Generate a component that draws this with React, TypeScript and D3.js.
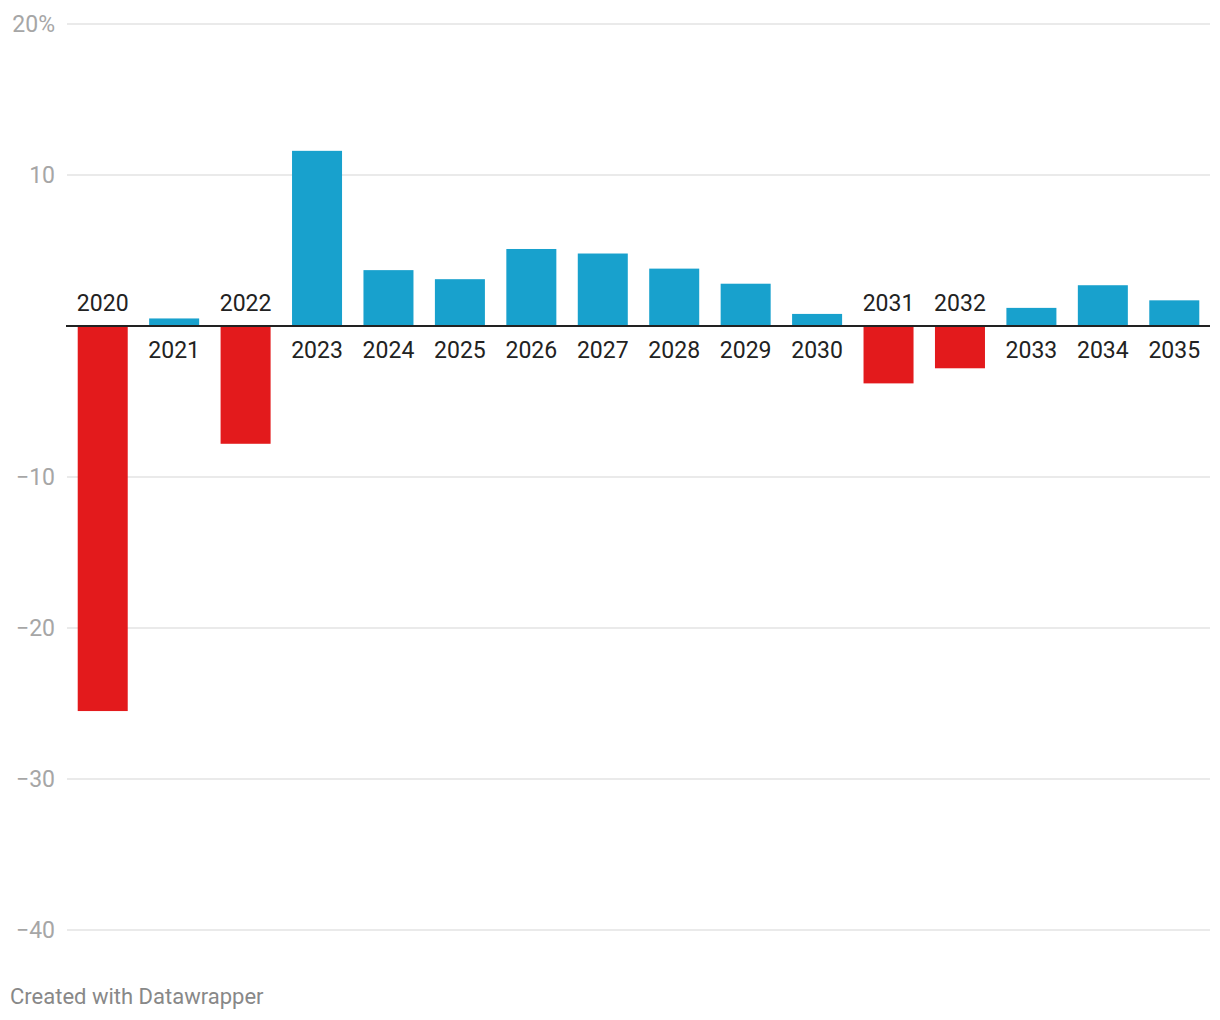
import React from "react";
import * as d3 from "d3";

const years = ["2020","2021","2022","2023","2024","2025","2026","2027","2028","2029","2030","2031","2032","2033","2034","2035"];
const values = [-25.5, 0.5, -7.8, 11.6, 3.7, 3.1, 5.1, 4.8, 3.8, 2.8, 0.8, -3.8, -2.8, 1.2, 2.7, 1.7];
const yTicks = [20, 10, 0, -10, -20, -30, -40];

const W = 1220, H = 1020;
const BLUE = "#18a1cd", RED = "#e31a1c";

export default function App() {
  const x = d3.scaleBand<string>().domain(years).range([67, 1210]).paddingInner(0.3).paddingOuter(0.15);
  const y = d3.scaleLinear().domain([-40, 20]).range([930, 24]);
  const font = "Roboto, sans-serif";
  return (
    <svg width={W} height={H} style={{ position: "absolute", left: 0, top: 0, background: "#fff" }} fontFamily={font}>
      {yTicks.filter(t => t !== 0).map(t => (
        <g key={t}>
          <line x1={67} x2={1210} y1={y(t)} y2={y(t)} stroke="#e3e3e3" strokeWidth={1.5} />
          <text x={55} y={y(t)} dy="0.36em" textAnchor="end" fontSize={23} fill="#a6a6a6">
            {t === 20 ? "20%" : t < 0 ? "\u2212" + Math.abs(t) : String(t)}
          </text>
        </g>
      ))}
      {years.map((yr, i) => {
        const v = values[i];
        const bx = x(yr)!;
        const y0 = y(0), y1 = y(v);
        return (
          <rect key={yr} x={bx} width={x.bandwidth()} y={Math.min(y0, y1)} height={Math.abs(y1 - y0)} fill={v < 0 ? RED : BLUE} />
        );
      })}
      <line x1={66} x2={1210} y1={y(0)} y2={y(0)} stroke="#222" strokeWidth={2} />
      {years.map((yr, i) => {
        const v = values[i];
        const cx = x(yr)! + x.bandwidth() / 2;
        return (
          <text key={yr} x={cx} y={v < 0 ? y(0) - 15 : y(0) + 32} textAnchor="middle" fontSize={23} fill="#222">{yr}</text>
        );
      })}
      <text x={10} y={1004} fontSize={22} fill="#888">Created with Datawrapper</text>
    </svg>
  );
}
